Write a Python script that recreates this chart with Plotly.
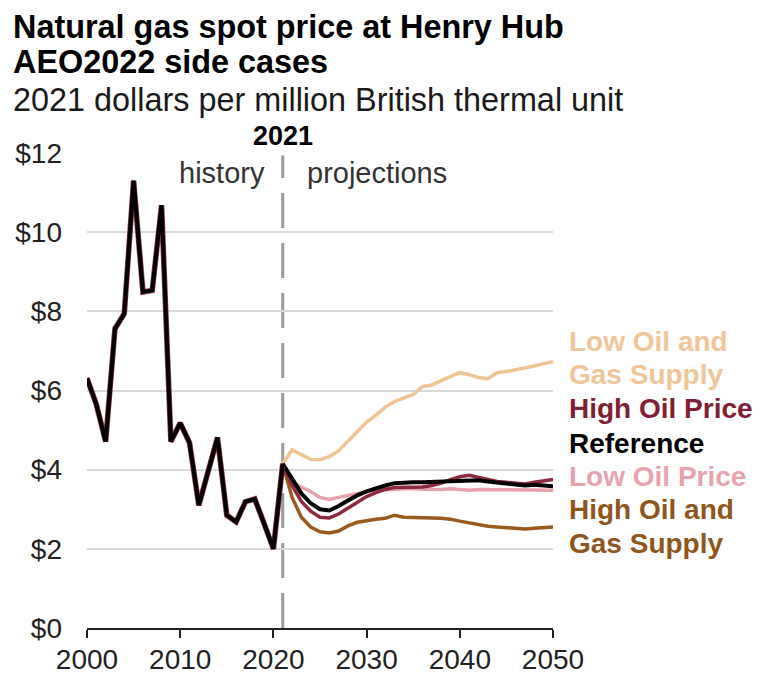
import plotly.graph_objects as go

hist_years = list(range(2000, 2022))
hist_price = [6.31, 5.65, 4.71, 7.56, 7.94, 11.30, 8.49, 8.53, 10.68, 4.71, 5.18, 4.68,
              3.10, 4.00, 4.81, 2.85, 2.68, 3.19, 3.26, 2.64, 2.00, 4.15]

proj_years = list(range(2021, 2051))
reference = [4.15, 3.75, 3.40, 3.15, 3.00, 2.97, 3.08, 3.22, 3.35, 3.45, 3.53, 3.60, 3.66, 3.68, 3.68,
             3.68, 3.69, 3.70, 3.71, 3.73, 3.74, 3.73, 3.70, 3.67, 3.65, 3.62, 3.60, 3.62, 3.59, 3.58]
high_oil_price = [4.15, 3.60, 3.20, 2.95, 2.80, 2.78, 2.88, 3.02, 3.18, 3.32, 3.42, 3.50, 3.55, 3.55, 3.54,
                  3.56, 3.60, 3.66, 3.75, 3.82, 3.86, 3.80, 3.75, 3.70, 3.68, 3.66, 3.64, 3.68, 3.72, 3.75]
low_oil_price = [4.15, 3.70, 3.55, 3.45, 3.30, 3.25, 3.30, 3.35, 3.42, 3.45, 3.48, 3.50, 3.52, 3.52, 3.52,
                 3.50, 3.50, 3.50, 3.52, 3.50, 3.48, 3.50, 3.50, 3.50, 3.50, 3.50, 3.48, 3.50, 3.48, 3.48]
high_supply = [4.15, 3.30, 2.80, 2.55, 2.43, 2.40, 2.45, 2.58, 2.67, 2.72, 2.75, 2.77, 2.85, 2.80, 2.80,
               2.80, 2.78, 2.77, 2.75, 2.70, 2.65, 2.60, 2.57, 2.55, 2.53, 2.51, 2.50, 2.52, 2.53, 2.55]
low_supply = [4.15, 4.50, 4.38, 4.26, 4.25, 4.33, 4.48, 4.72, 4.98, 5.20, 5.38, 5.58, 5.72, 5.82, 5.90,
              6.10, 6.14, 6.25, 6.36, 6.45, 6.40, 6.33, 6.30, 6.45, 6.48, 6.52, 6.56, 6.62, 6.68, 6.73]

y_ticks = [0, 2, 4, 6, 8, 10, 12]
y_tick_labels = ["$0", "$2", "$4", "$6", "$8", "$10", "$12"]
x_ticks = [2000, 2010, 2020, 2030, 2040, 2050]

C_LOW_SUP = "#F0C596"
C_HIGH_OIL = "#8E2A3E"
C_REF = "#000000"
C_LOW_OIL = "#E6A1AA"
C_HIGH_SUP = "#9A5A1E"

FONT = "Liberation Sans, Arial, sans-serif"

OFF = 8  # default page body margin (top/left)
W, H = 760 - OFF, 677 - OFF
L, R, T, B = 87.3 - OFF, 206.7, 153.3 - OFF, 49
PW, PH = W - L - R, H - T - B


def px(x):
    return (x - OFF - L) / PW


def py(y):
    return (H - B - (y - OFF)) / PH


fig = go.Figure()

series = [
    (low_supply, C_LOW_SUP, 3.5),
    (high_supply, C_HIGH_SUP, 3.5),
    (low_oil_price, C_LOW_OIL, 3.5),
    (high_oil_price, C_HIGH_OIL, 3.5),
    (reference, C_REF, 4),
]
for vals, col, w in series:
    fig.add_trace(go.Scatter(x=proj_years, y=vals, mode="lines",
                             line=dict(color=col, width=w), hoverinfo="skip", showlegend=False))

fig.add_trace(go.Scatter(x=hist_years, y=hist_price, mode="lines",
                         line=dict(color=C_HIGH_OIL, width=5.5), hoverinfo="skip", showlegend=False))
fig.add_trace(go.Scatter(x=hist_years, y=hist_price, mode="lines",
                         line=dict(color=C_REF, width=4), hoverinfo="skip", showlegend=False))

# vertical dashed divider at 2021
fig.add_shape(type="line", x0=2021, x1=2021, xref="x", yref="paper", y0=0, y1=0.995,
              line=dict(color="#9a9a9a", width=3, dash="35px,15px"), layer="below")

annotations = []


def ann(text, x, y, size, color="#000", xanchor="left", bold=False):
    annotations.append(dict(text=("<b>%s</b>" % text) if bold else text, x=px(x), y=py(y),
                            xref="paper", yref="paper", showarrow=False, xanchor=xanchor,
                            yanchor="middle", font=dict(family=FONT, size=size, color=color)))


ann("Natural gas spot price at Henry Hub", 11, 27.5, 32.4, bold=True)
ann("AEO2022 side cases", 11, 62.5, 32.4, bold=True)
ann("2021 dollars per million British thermal unit", 11, 100.5, 32.4, color="#1a1a1a")
ann("2021", 283, 136, 27, xanchor="center", bold=True)
ann("history", 267, 173, 29, color="#333", xanchor="right")
ann("projections", 305, 173, 29, color="#333")

lx = 567
ann("Low Oil and", lx, 342, 28, color="#F0C699", bold=True)
ann("Gas Supply", lx, 375, 28, color="#F0C699", bold=True)
ann("High Oil Price", lx, 409, 28, color="#7F1E34", bold=True)
ann("Reference", lx, 444, 28, color="#000", bold=True)
ann("Low Oil Price", lx, 477, 28, color="#E8A3AE", bold=True)
ann("High Oil and", lx, 510, 28, color="#8F561C", bold=True)
ann("Gas Supply", lx, 544, 28, color="#8F561C", bold=True)

fig.update_layout(
    width=W, height=H,
    margin=dict(l=L, r=R, t=T, b=B, pad=0, autoexpand=False),
    paper_bgcolor="white", plot_bgcolor="white",
    annotations=annotations,
    font=dict(family=FONT, size=28, color="#222"),
    xaxis=dict(range=[2000, 2050], tickvals=x_ticks, ticktext=[str(v) for v in x_ticks],
               showgrid=False, zeroline=False, showline=True, linecolor="#222", linewidth=2,
               ticks="outside", ticklen=8, tickwidth=2, tickcolor="#222", automargin=False,
               ticklabelstandoff=-3,
               tickfont=dict(family=FONT, size=28, color="#222")),
    yaxis=dict(range=[0, 12], tickvals=y_ticks, ticktext=y_tick_labels,
               showgrid=True, gridcolor="#d9d9d9", gridwidth=2, zeroline=False, showline=False,
               ticks="", ticklabelstandoff=24, automargin=False,
               tickfont=dict(family=FONT, size=28, color="#222")),
)

fig.write_html("out.html")
